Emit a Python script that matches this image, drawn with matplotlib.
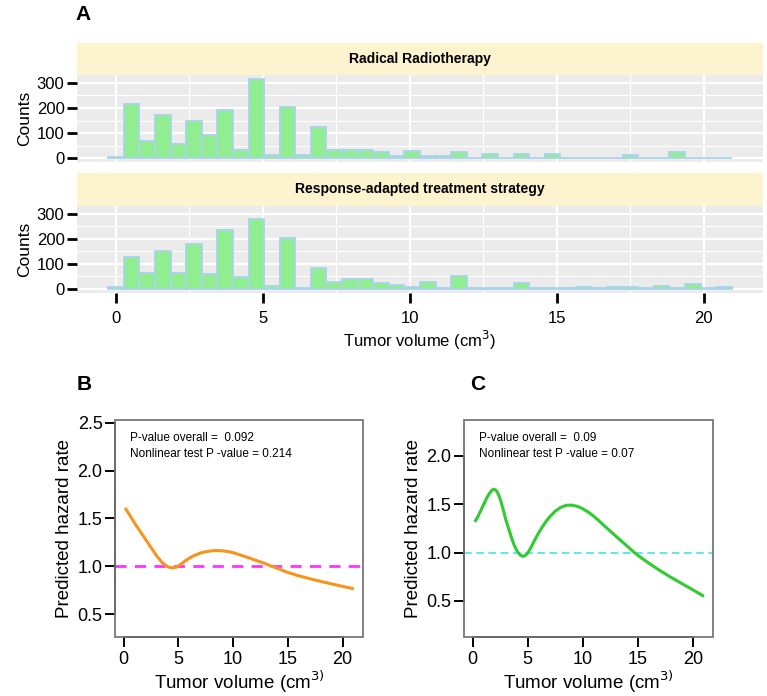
import numpy as np
import matplotlib
matplotlib.use("Agg")
import matplotlib.pyplot as plt
from matplotlib.patches import Rectangle
from matplotlib.ticker import MultipleLocator

plt.rcParams['font.family'] = ['Liberation Sans', 'DejaVu Sans']

# ---------------- data ----------------
bin_start = -0.25
bin_width = 0.53
facets = ["Radical Radiotherapy", "Response-adapted treatment strategy"]
counts_radical = [3, 216, 69, 171, 57, 147, 91, 193, 33, 316,
                  13, 205, 12, 124, 31, 31, 31, 23, 10, 27,
                  9, 9, 25, 2, 15, 2, 15, 2, 15, 1,
                  1, 1, 1, 14, 1, 1, 25, 2, 2, 1]
counts_adapted = [9, 127, 64, 153, 64, 179, 59, 235, 49, 280,
                  11, 204, 4, 84, 27, 40, 40, 23, 16, 9,
                  27, 2, 53, 2, 2, 3, 22, 2, 3, 3,
                  7, 4, 8, 9, 3, 10, 4, 19, 5, 6]

xB = [0.2, 0.6, 1.0, 1.5, 2.0, 2.5, 3.0, 3.5, 4.0, 4.4, 4.8, 5.2, 5.6, 6.0, 6.5, 7.0,
      7.5, 8.0, 8.5, 9.0, 9.5, 10.0, 11.0, 12.0, 13.0, 13.5, 14.0, 15.0, 16.0, 17.0,
      18.0, 19.0, 20.0, 20.9]
yB = [1.597, 1.525, 1.45, 1.365, 1.28, 1.195, 1.11, 1.04, 0.995, 0.983, 0.99, 1.02, 1.055,
      1.085, 1.115, 1.138, 1.152, 1.161, 1.165, 1.162, 1.154, 1.142, 1.105, 1.065, 1.025,
      1.0, 0.98, 0.935, 0.90, 0.87, 0.842, 0.815, 0.79, 0.767]

xC = [0.25, 0.5, 0.75, 1.0, 1.25, 1.5, 1.75, 1.92, 2.1, 2.3, 2.5, 2.75, 3.0, 3.25, 3.5,
      3.75, 4.0, 4.3, 4.56, 4.8, 5.0, 5.25, 5.5, 5.75, 6.0, 6.25, 6.5, 6.75, 7.0, 7.5,
      8.0, 8.5, 9.0, 9.5, 10.0, 10.5, 11.0, 11.5, 12.0, 13.0, 14.0, 14.7, 15.0, 16.0,
      17.0, 18.0, 19.0, 20.0, 20.9]
yC = [1.33, 1.38, 1.44, 1.50, 1.56, 1.61, 1.645, 1.655, 1.645, 1.61, 1.55, 1.45, 1.34,
      1.25, 1.16, 1.08, 1.02, 0.975, 0.96, 0.972, 0.995, 1.045, 1.10, 1.155, 1.205,
      1.252, 1.295, 1.335, 1.37, 1.428, 1.467, 1.488, 1.49, 1.478, 1.453, 1.418, 1.375,
      1.325, 1.272, 1.17, 1.07, 1.0, 0.972, 0.89, 0.815, 0.745, 0.68, 0.615, 0.555]

annotB = ["P-value overall =  0.092", "Nonlinear test P -value = 0.214"]
annotC = ["P-value overall =  0.09", "Nonlinear test P -value = 0.07"]

# ---------------- figure ----------------
W, H = 767, 696
fig = plt.figure(figsize=(W / 100, H / 100), dpi=100)

def fx(px):
    return px / W

def fy(py):
    return 1 - py / H

bar_fill = "#90EE90"
bar_edge = "#A9D3EC"
strip_col = "#FDF3CF"
panel_col = "#EBEBEB"

n_bins = len(counts_radical)
centers = bin_start + bin_width * (np.arange(n_bins) + 0.5)

hist_specs = [
    (facets[0], counts_radical, 42.7, 75, 162),
    (facets[1], counts_adapted, 173, 206, 292.7),
]
axes_hist = []
for i, (title, counts, s_top, p_top, p_bot) in enumerate(hist_specs):
    sax = fig.add_axes([fx(77), fy(p_top), fx(763) - fx(77), (p_top - s_top) / H])
    sax.set_facecolor(strip_col)
    for sp in sax.spines.values():
        sp.set_visible(False)
    sax.set_xticks([])
    sax.set_yticks([])
    sax.text(0.5, 0.5, title, ha="center", va="center", fontsize=10,
             fontweight="bold", transform=sax.transAxes)

    ax = fig.add_axes([fx(77), fy(p_bot), fx(763) - fx(77), (p_bot - p_top) / H])
    ax.set_facecolor(panel_col)
    for sp in ax.spines.values():
        sp.set_visible(False)
    ax.bar(centers, counts, width=bin_width, color=bar_fill, edgecolor=bar_edge,
           linewidth=1.3, zorder=3)
    ax.set_xlim(-1.31, 22.01)
    ax.set_ylim(-15.8, 331.8)
    ax.xaxis.set_major_locator(MultipleLocator(5))
    ax.xaxis.set_minor_locator(MultipleLocator(2.5))
    ax.set_yticks([0, 100, 200, 300])
    ax.yaxis.set_minor_locator(MultipleLocator(50))
    ax.grid(which="major", color="white", linewidth=1.6, zorder=1)
    ax.grid(which="minor", color="white", linewidth=0.8, zorder=1)
    ax.set_axisbelow(True)
    ax.tick_params(axis="y", which="major", length=7, width=2, color="black",
                   labelsize=12, pad=2)
    ax.tick_params(which="minor", length=0)
    ax.set_ylabel("Counts", fontsize=12.5, labelpad=4)
    if i == 0:
        ax.tick_params(axis="x", which="major", length=0, labelbottom=False)
    else:
        ax.tick_params(axis="x", which="major", length=7, width=2, color="black",
                       labelsize=12, pad=6)
        ax.set_xlabel("Tumor volume (cm$^3$)", fontsize=12, labelpad=2)
    axes_hist.append(ax)

axes_hist[0].yaxis.set_label_coords(-0.066, 0.5)
axes_hist[1].yaxis.set_label_coords(-0.066, 0.5)

fig.text(fx(75), fy(15), "A", fontsize=15, fontweight="bold", ha="left", va="center")

# ---------------- panels B & C ----------------
def hazard_panel(rect, xs, ys, color, ref_color, ref_lw, ref_dash, ylim, yticks, annot):
    ax = fig.add_axes(rect)
    for sp in ax.spines.values():
        sp.set_visible(False)
    ax.add_patch(Rectangle((0, 0), 1, 1, transform=ax.transAxes, fill=False,
                           edgecolor="#777777", linewidth=1.3, clip_on=False, zorder=5))
    ax.axhline(1.0, color=ref_color, linewidth=ref_lw, linestyle=(0, ref_dash), zorder=2)
    ax.plot(xs, ys, color=color, linewidth=2.2, zorder=3, solid_joinstyle="round")
    ax.set_xlim(-0.8, 21.87)
    ax.set_ylim(*ylim)
    ax.set_xticks([0, 5, 10, 15, 20])
    ax.set_yticks(yticks)
    ax.set_yticklabels([f"{t:.1f}" for t in yticks])
    ax.tick_params(axis="both", length=7, width=1.4, color="black", labelsize=13)
    ax.tick_params(axis="x", pad=3)
    ax.tick_params(axis="y", pad=2)
    ax.spines["left"].set_visible(True)
    ax.spines["left"].set_bounds(yticks[0], yticks[-1])
    ax.spines["left"].set_linewidth(1.4)
    ax.spines["bottom"].set_visible(True)
    ax.spines["bottom"].set_bounds(0, 20)
    ax.spines["bottom"].set_linewidth(1.4)
    ax.set_ylabel("Predicted hazard rate", fontsize=13.5, labelpad=3)
    ax.set_xlabel("Tumor volume (cm$^{3)}$", fontsize=13.5, labelpad=1)
    ax.text(0.06, 0.915, annot[0], transform=ax.transAxes, fontsize=8.5, va="center")
    ax.text(0.06, 0.845, annot[1], transform=ax.transAxes, fontsize=8.5, va="center")
    return ax

axB = hazard_panel([fx(115), fy(637), fx(363) - fx(115), (637 - 420) / H],
                   xB, yB, "#F7941D", "#FF33FF", 2.0, (4, 3),
                   (0.26, 2.53), [0.5, 1.0, 1.5, 2.0, 2.5], annotB)
axC = hazard_panel([fx(464), fy(636.7), fx(713.3) - fx(464), (636.7 - 420) / H],
                   xC, yC, "#2ECC2E", "#33E0E8", 1.1, (5, 3),
                   (0.13, 2.37), [0.5, 1.0, 1.5, 2.0], annotC)

fig.text(fx(77), fy(385), "B", fontsize=15, fontweight="bold", ha="left", va="center")
fig.text(fx(470), fy(385), "C", fontsize=15, fontweight="bold", ha="left", va="center")

fig.savefig("out.png", dpi=100)
